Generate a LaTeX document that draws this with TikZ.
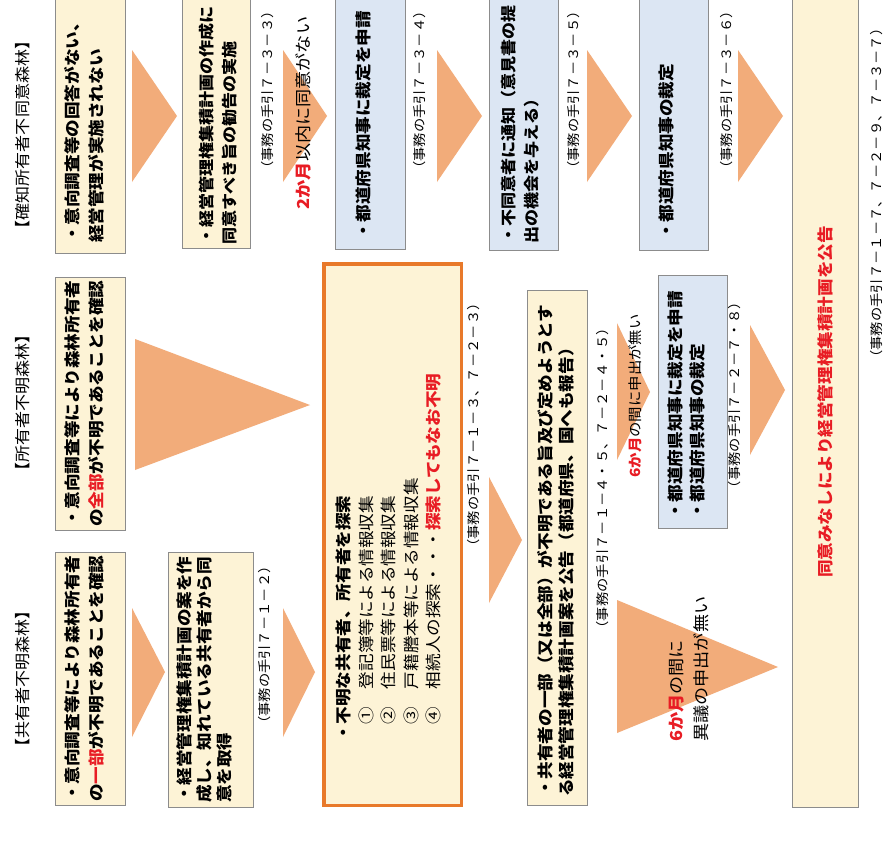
\documentclass[tikz,border=0pt]{standalone}
\usepackage{fontspec}
\newfontfamily\jp[FakeStretch=1.1]{Noto Sans CJK JP}
\definecolor{boxyellow}{RGB}{253,243,214}
\definecolor{boxblue}{RGB}{220,230,243}
\definecolor{boxline}{RGB}{140,140,140}
\definecolor{arrowfill}{RGB}{242,172,122}
\definecolor{jpred}{RGB}{232,28,36}
\definecolor{obord}{RGB}{232,121,42}
\begin{document}
\begin{tikzpicture}[x=1pt,y=-1pt,
  ybox/.style={draw=boxline, line width=0.9pt, fill=boxyellow, anchor=north west, inner sep=0pt, outer sep=0pt},
  bbox/.style={draw=boxline, line width=0.9pt, fill=boxblue, anchor=north west, inner sep=0pt, outer sep=0pt},
  obox/.style={draw=obord, line width=3.5pt, fill=boxyellow, anchor=north west, inner sep=0pt, outer sep=0pt},
  tri/.style={fill=arrowfill, draw=none},
  boxtext/.style={rotate=90, anchor=north west, inner sep=0pt, align=left, font=\jp\bfseries\fontsize{16}{23}\selectfont},
  reftext/.style={rotate=90, inner sep=0pt, font=\jp\fontsize{13}{16}\selectfont},
  headtext/.style={rotate=90, inner sep=0pt, font=\jp\fontsize{15.5}{18}\selectfont},
]
\useasboundingbox (0,0) rectangle (889,865);
\clip (0,0) rectangle (889,865);
\fill[white] (0,0) rectangle (889,865);

% headers
\node[headtext] (h3) at (23,135) {【確知所有者不同意森林】};
\node[headtext] (h2) at (23,403) {【所有者不明森林】};
\node[headtext] (h1) at (23,679) {【共有者不明森林】};

% column 1 boxes
\node[ybox, minimum width=70, minimum height=258] (a3) at (55,-5) {};
\node[ybox, minimum width=70, minimum height=253] (a2) at (55,277) {};
\node[ybox, minimum width=70, minimum height=253] (a1) at (55,552) {};
\node[boxtext, font=\jp\bfseries\fontsize{16}{24}\selectfont] (a3t) at (64,243) {・意向調査等の回答がない、\\経営管理が実施されない};
\node[boxtext, font=\jp\bfseries\fontsize{16}{24}\selectfont] (a2t) at (64,527) {・意向調査等により森林所有者\\の{\color{jpred}全部}が不明であることを確認};
\node[boxtext, font=\jp\bfseries\fontsize{16}{24}\selectfont] (a1t) at (64,802) {・意向調査等により森林所有者\\の{\color{jpred}一部}が不明であることを確認};

% triangles
\fill[tri] (132,50) -- (132,182) -- (177,116) -- cycle;
\fill[tri] (283,50) -- (283,182) -- (327,116) -- cycle;
\fill[tri] (437,50) -- (437,182) -- (482,116) -- cycle;
\fill[tri] (587,50) -- (587,182) -- (632,116) -- cycle;
\fill[tri] (738,50) -- (738,182) -- (783,116) -- cycle;
\fill[tri] (135,339) -- (135,470) -- (310,405) -- cycle;
\fill[tri] (617,323) -- (617,460) -- (650,392) -- cycle;
\fill[tri] (750,325) -- (750,455) -- (785,390) -- cycle;
\fill[tri] (132,608) -- (132,737) -- (165,672) -- cycle;
\fill[tri] (283,608) -- (283,737) -- (315,672) -- cycle;
\fill[tri] (489,477) -- (489,603) -- (522,540) -- cycle;
\fill[tri] (617,600) -- (617,733) -- (778,667) -- cycle;

% column 2
\node[ybox, minimum width=68, minimum height=253] (b3) at (182,-5) {};
\node[boxtext, font=\jp\bfseries\fontsize{15.5}{22.5}\selectfont] (b3t) at (199,245) {・経営管理権集積計画の作成に\\同意すべき旨の勧告の実施};
\node[reftext] (r33) at (268,90) {（事務の手引７－３－３）};
\node[ybox, minimum width=85, minimum height=255] (b1) at (168,552) {};
\node[boxtext, font=\jp\bfseries\fontsize{16}{20}\selectfont] (b1t) at (176,803) {・経営管理権集積計画の案を作\\成し、知れている共有者から同\\意を取得};
\node[reftext] (r12) at (265,645) {（事務の手引７－１－２）};

% 2 months text
\node[rotate=90, inner sep=0pt, font=\jp\fontsize{16.5}{19}\selectfont] (twom) at (303,113) {{\color{jpred}\bfseries 2か月}以内に同意がない};

% blue boxes top row
\node[bbox, minimum width=70, minimum height=254] (c3) at (335,-5) {};
\node[boxtext] (c3t) at (356,240) {・都道府県知事に裁定を申請};
\node[reftext] (r34) at (420,90) {（事務の手引７－３－４）};
\node[bbox, minimum width=69, minimum height=255] (d3) at (489,-5) {};
\node[boxtext, font=\jp\bfseries\fontsize{15.5}{23}\selectfont] (d3t) at (501,244) {・不同意者に通知（意見書の提\\出の機会を与える）};
\node[reftext] (r35) at (574,90) {（事務の手引７－３－５）};
\node[bbox, minimum width=69, minimum height=255] (e3) at (639,-5) {};
\node[boxtext] (e3t) at (659,240) {・都道府県知事の裁定};
\node[reftext] (r36) at (727,90) {（事務の手引７－３－６）};

% orange search box
\node[obox, minimum width=137.5, minimum height=541.5] (o) at (323.75,263.75) {};
\node[boxtext, font=\jp\fontsize{16}{22.5}\selectfont] (ot) at (336,742) {{\bfseries ・不明な共有者、所有者を探索}\\　①　登記簿等による情報収集\\　②　住民票等による情報収集\\　③　戸籍謄本等による情報収集\\　④　相続人の探索・・・{\color{jpred}\bfseries 探索してもなお不明}};
\node[reftext] (r13) at (474,425) {（事務の手引７－１－３、７－２－３）};

% public notice box
\node[ybox, minimum width=60, minimum height=515] (f) at (527,290) {};
\node[boxtext, font=\jp\bfseries\fontsize{16}{21}\selectfont] (ft) at (537,797) {・共有者の一部（又は全部）が不明である旨及び定めようとす\\る経営管理権集積計画案を公告（都道府県、国へも報告）};
\node[reftext] (r145) at (603,478) {（事務の手引７－１－４・５、７－２－４・５）};

% 6 months (middle)
\node[rotate=90, inner sep=0pt, font=\jp\fontsize{14}{17}\selectfont] (sixm) at (635,396) {{\color{jpred}\bfseries 6か月}の間に申出が無い};

% governor box
\node[bbox, minimum width=69, minimum height=253] (g) at (658,275) {};
\node[boxtext, font=\jp\bfseries\fontsize{16}{22}\selectfont] (gt) at (668,520) {・都道府県知事に裁定を申請\\・都道府県知事の裁定};
\node[reftext] (r278) at (735,395) {（事務の手引７－２－７・８）};

% 6 months (bottom)
\node[rotate=90, anchor=north west, inner sep=0pt, align=left, font=\jp\fontsize{16.5}{25}\selectfont] (sixb) at (669,742) {{\color{jpred}\bfseries 6か月}の間に\\異議の申出が無い};

% final box
\node[ybox, minimum width=66, minimum height=812] (fin) at (792,-5) {};
\node[rotate=90, inner sep=0pt, font=\jp\bfseries\fontsize{16}{19}\selectfont, text=jpred] (fint) at (825,402) {同意みなしにより経営管理権集積計画を公告};
\node[reftext] (rfin) at (877,193) {（事務の手引７－１－７、７－２－９、７－３－７）};
\end{tikzpicture}
\end{document}
